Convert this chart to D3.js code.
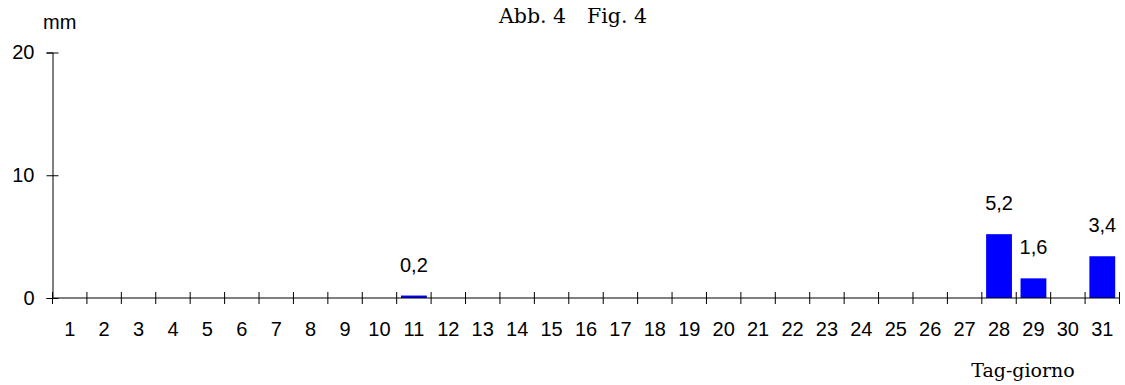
<!DOCTYPE html>
<html><head><meta charset="utf-8">
<script src="https://cdn.jsdelivr.net/npm/d3@7"></script>
<style>body{margin:0;background:#fff}svg{display:block}</style>
</head><body>
<svg id="c" width="1125" height="385"></svg>
<script>
const days = d3.range(1, 32).map(String);
const rain = [0,0,0,0,0,0,0,0,0,0,0.2,0,0,0,0,0,0,0,0,0,0,0,0,0,0,0,0,5.2,1.6,0,3.4];
const yTicks = [0, 10, 20];
const titleParts = ["Abb. 4", "Fig. 4"];
const yLabel = "mm";
const xLabel = "Tag-giorno";

const svg = d3.select("#c");
const x = d3.scaleBand().domain(days).range([52.5, 1119.5]).paddingInner(0.25).paddingOuter(0.125);
const y = d3.scaleLinear().domain([0, 20]).range([298, 52.5]);
const sans = "'Liberation Sans', Arial, sans-serif";
const serif = "'DejaVu Serif', 'Liberation Serif', serif";
const fs = "20px";

// bars
svg.append("g").selectAll("rect").data(rain).join("rect")
  .attr("x", (d,i)=>x(days[i]))
  .attr("width", x.bandwidth())
  .attr("y", d=>y(d))
  .attr("height", d=>y(0)-y(d))
  .attr("fill", "#0000ff");

// y axis
const yAxis = svg.append("g").attr("transform","translate(52.5,0)")
  .call(d3.axisLeft(y).tickValues(yTicks).tickSize(6).tickPadding(12));
yAxis.selectAll(".tick line").attr("x2", 6).attr("x1", -6);
yAxis.selectAll("text").style("font-family", sans).style("font-size",fs).attr("fill","#000");

// x axis (ticks at category boundaries)
const step = x.step();
const xTickPos = d3.range(0, 32).map(i => x.range()[0] + i*step);
const xa = svg.append("g").attr("transform","translate(0,298)");
xa.append("line").attr("x1",x.range()[0]).attr("x2",x.range()[1]).attr("stroke","#000");
xa.selectAll("line.t").data(xTickPos).join("line").attr("class","t")
  .attr("x1",d=>d).attr("x2",d=>d).attr("y1",-6).attr("y2",6).attr("stroke","#000");
xa.selectAll("text").data(days).join("text")
  .attr("x", d=>x(d)+x.bandwidth()/2).attr("y", 38)
  .attr("text-anchor","middle").style("font-family",sans).style("font-size",fs).text(d=>d);
svg.selectAll(".domain").attr("stroke","#000");
svg.selectAll(".tick line").attr("stroke","#000");

// value labels
svg.append("g").selectAll("text").data(rain.map((v,i)=>({v,i})).filter(d=>d.v>0)).join("text")
  .attr("x", d=>x(days[d.i])+x.bandwidth()/2)
  .attr("y", d=>y(d.v)-24)
  .attr("text-anchor","middle").style("font-family",sans).style("font-size",fs)
  .text(d=>String(d.v).replace(".", ","));

// texts
svg.append("text").attr("x",43).attr("y",29).style("font-family",sans).style("font-size",fs).text(yLabel);
svg.append("text").attr("x",499).attr("y",23).style("font-family",serif).style("font-size","20.5px").text(titleParts[0]);
svg.append("text").attr("x",647).attr("y",23).attr("text-anchor","end").style("font-family",serif).style("font-size","20.5px").text(titleParts[1]);
svg.append("text").attr("x",1023).attr("y",377).attr("text-anchor","middle").style("font-family",serif).style("font-size","19px").text(xLabel);
</script>
</body></html>
